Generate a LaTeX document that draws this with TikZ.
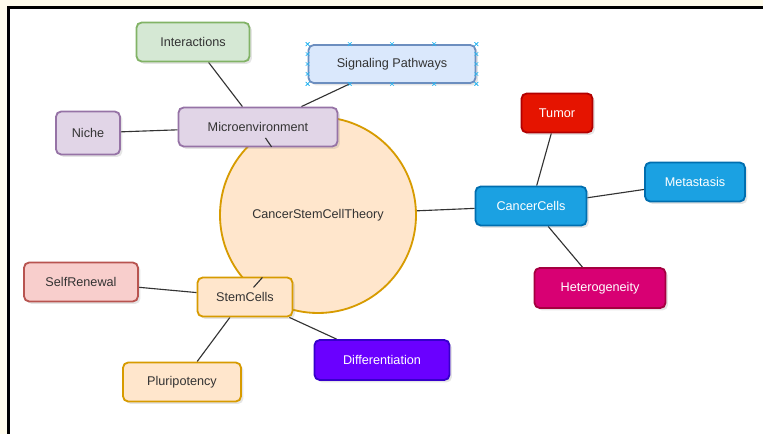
\documentclass[tikz,border=0pt]{standalone}
\usepackage{fontspec}
\setmainfont{Liberation Sans}
\usetikzlibrary{shapes,shadows,backgrounds,calc}
\definecolor{csc_paper}{RGB}{255,252,236}
\definecolor{csc_text}{RGB}{51,51,51}
\definecolor{csc_purple}{RGB}{225,213,231}
\definecolor{csc_purple_line}{RGB}{150,115,166}
\definecolor{csc_green}{RGB}{213,232,212}
\definecolor{csc_green_line}{RGB}{130,179,102}
\definecolor{csc_blue}{RGB}{218,232,252}
\definecolor{csc_blue_line}{RGB}{108,142,191}
\definecolor{csc_orange}{RGB}{255,230,204}
\definecolor{csc_orange_line}{RGB}{215,155,0}
\definecolor{csc_pink}{RGB}{248,206,204}
\definecolor{csc_pink_line}{RGB}{184,84,80}
\definecolor{csc_cyan}{RGB}{27,161,226}
\definecolor{csc_cyan_line}{RGB}{0,110,175}
\definecolor{csc_red}{RGB}{229,20,0}
\definecolor{csc_red_line}{RGB}{178,0,0}
\definecolor{csc_magenta}{RGB}{216,0,115}
\definecolor{csc_magenta_line}{RGB}{165,0,64}
\definecolor{csc_violet}{RGB}{106,0,255}
\definecolor{csc_violet_line}{RGB}{55,0,204}
\definecolor{csc_handle}{RGB}{41,182,242}
\tikzstyle{box}=[rectangle,rounded corners=1.3mm,line width=1.3pt,inner sep=0pt,
  minimum height=9.75mm,text=csc_text,font=\fontsize{9}{11}\selectfont,
  drop shadow={opacity=0.2,shadow xshift=0.6mm,shadow yshift=-0.6mm}]
\tikzstyle{pn}=[box,fill=csc_purple,draw=csc_purple_line]
\tikzstyle{gn}=[box,fill=csc_green,draw=csc_green_line]
\tikzstyle{bn}=[box,fill=csc_blue,draw=csc_blue_line]
\tikzstyle{on}=[box,fill=csc_orange,draw=csc_orange_line]
\tikzstyle{sn}=[box,fill=csc_pink,draw=csc_pink_line]
\tikzstyle{cn}=[box,fill=csc_cyan,draw=csc_cyan_line,text=white]
\tikzstyle{tn}=[box,fill=csc_red,draw=csc_red_line,text=white]
\tikzstyle{mn}=[box,fill=csc_magenta,draw=csc_magenta_line,text=white]
\tikzstyle{vn}=[box,fill=csc_violet,draw=csc_violet_line,text=white]
\tikzstyle{hub}=[circle,fill=csc_orange,draw=csc_orange_line,line width=1.3pt,
  minimum size=49mm,inner sep=0pt,text=csc_text,font=\fontsize{9}{11}\selectfont]
\tikzstyle{link}=[draw=black!80,line width=0.8pt]
\tikzstyle{handle}=[cross out,draw=csc_handle,line width=0.4pt,minimum size=0.8mm,inner sep=0pt]

\begin{document}
\begin{tikzpicture}[x=0.25mm,y=-0.25mm]
    \useasboundingbox (0,0) rectangle (763,434);
    \node [style=hub] (theory) at (318,215) {CancerStemCellTheory};
    \node [style=gn,minimum width=28.25mm] (interactions) at (193,42) {Interactions};
    \node [style=bn,minimum width=41.75mm,minimum height=9.5mm] (signaling) at (392,64) {Signaling Pathways};
    \node [style=pn,minimum width=39.75mm] (micro) at (258,127) {Microenvironment};
    \node [style=pn,minimum width=16mm,minimum height=10.75mm] (niche) at (88,133) {Niche};
    \node [style=cn,minimum width=27.75mm] (cancer) at (531,206) {CancerCells};
    \node [style=tn,minimum width=17.75mm] (tumor) at (557,113) {Tumor};
    \node [style=cn,minimum width=25mm] (metastasis) at (695,182) {Metastasis};
    \node [style=mn,minimum width=32.75mm,minimum height=10mm] (hetero) at (600,288) {Heterogeneity};
    \node [style=sn,minimum width=28.5mm] (selfrenewal) at (81,282) {SelfRenewal};
    \node [style=on,minimum width=23.75mm] (stem) at (245,297) {StemCells};
    \node [style=vn,minimum width=33.75mm,minimum height=10mm] (diff) at (382,360) {Differentiation};
    \node [style=on,minimum width=29.5mm] (pluri) at (182,382) {Pluripotency};
    % page and links go under the nodes
    \begin{scope}[on background layer]
      \fill [csc_paper] (0,0) rectangle (763,434);
      \fill [white] (8.5,7.5) rectangle (763,434);
      \draw [line width=2pt] (8.5,434) -- (8.5,7.5) -- (763,7.5);
      \draw [style=link] (interactions) to (micro);
      \draw [style=link] (signaling) to (micro);
      \draw [style=link] (niche) to (micro);
      \draw [style=link] (theory) to (cancer);
      \draw [style=link] (tumor) to (cancer);
      \draw [style=link] (metastasis) to (cancer);
      \draw [style=link] (hetero) to (cancer);
      \draw [style=link] (selfrenewal) to (stem);
      \draw [style=link] (pluri) to (stem);
      \draw [style=link] (diff) to (stem);
    \end{scope}
    % short stubs left over on top of the boxes
    \draw [style=link,shorten <=20.6mm,shorten >=3.3mm] (theory.center) to (micro.center);
    \draw [style=link,shorten <=20.9mm,shorten >=3.2mm] (theory.center) to (stem.center);
    % selection handles
    \foreach \t in {0,0.25,0.5,0.75,1} {
      \node [style=handle] at ($(signaling.north west)!\t!(signaling.north east)$) {};
      \node [style=handle] at ($(signaling.south west)!\t!(signaling.south east)$) {};
      \node [style=handle] at ($(signaling.north west)!\t!(signaling.south west)$) {};
      \node [style=handle] at ($(signaling.north east)!\t!(signaling.south east)$) {};
    }
  \end{tikzpicture}
\end{document}
